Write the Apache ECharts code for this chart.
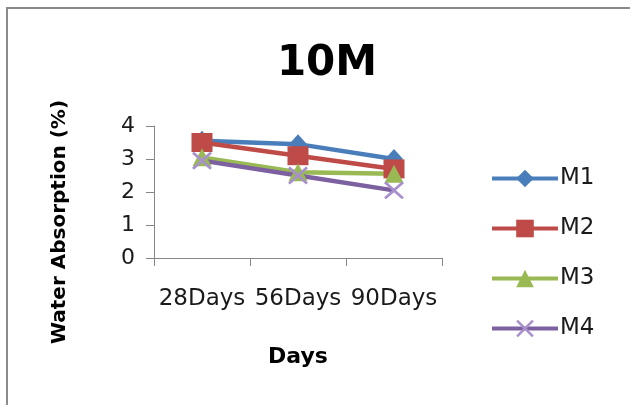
<!DOCTYPE html>
<html>
<head>
<meta charset="utf-8">
<script src="https://cdn.jsdelivr.net/npm/echarts@6/dist/echarts.min.js"></script>
<style>
  html, body { margin: 0; padding: 0; background: #ffffff; }
  #chart { width: 630px; height: 405px; }
</style>
</head>
<body>
<div id="chart"></div>
<script>
// Water absorption (%) of mixes M1–M4 at three curing ages
const categories = ['28Days', '56Days', '90Days'];
const seriesNames = ['M1', 'M2', 'M3', 'M4'];
const m1 = [3.55, 3.45, 3.0];
const m2 = [3.5, 3.1, 2.7];
const m3 = [3.05, 2.6, 2.55];
const m4 = [2.95, 2.5, 2.05];
const yTicks = [0, 1, 2, 3, 4];

const FONT = 'DejaVu Sans';
const colors = ['#4A7EBB', '#BE4B48', '#98B954', '#7D60A0'];
const crossPath = 'path://M0,1L1,0L5,4L9,0L10,1L6,5L10,9L9,10L5,6L1,10L0,9L4,5Z';

const chart = echarts.init(document.getElementById('chart'), null, { renderer: 'canvas' });

function lineSeries(name, data, color, symbol, size, symbolColor) {
  return {
    name: name,
    type: 'line',
    data: data,
    symbol: symbol,
    symbolSize: size,
    showAllSymbol: true,
    lineStyle: { color: color, width: 4.5 },
    itemStyle: { color: symbolColor || color, borderWidth: 0 },
    emphasis: { disabled: true },
    animation: false
  };
}

chart.setOption({
  animation: false,
  backgroundColor: '#ffffff',
  title: {
    text: '10M',
    left: 322,
    top: 38,
    textAlign: 'center',
    textStyle: { fontFamily: FONT, fontSize: 42, fontWeight: 'bold', color: '#000000' }
  },
  graphic: [
    {
      type: 'polyline',
      shape: { points: [[7, 420], [7, 8], [640, 8]] },
      style: { stroke: '#8A8A8A', lineWidth: 2, fill: null },
      silent: true
    },
    {
      type: 'text',
      x: 60,
      y: 222,
      rotation: Math.PI / 2,
      style: {
        text: 'Water Absorption (%)',
        fontFamily: FONT,
        fontSize: 20,
        fontWeight: 'bold',
        fill: '#000000',
        align: 'center',
        verticalAlign: 'middle'
      },
      silent: true
    }
  ],
  grid: { left: 154, right: 188, top: 126, bottom: 147, containLabel: false },
  legend: {
    orient: 'vertical',
    left: 485,
    top: 162,
    itemWidth: 66,
    itemHeight: 22,
    itemGap: 27,
    data: seriesNames,
    lineStyle: { width: 4 },
    textStyle: { fontFamily: FONT, fontSize: 23, color: '#1a1a1a', padding: [0, 0, 0, -3] },
    selectedMode: false
  },
  xAxis: {
    type: 'category',
    data: categories,
    boundaryGap: true,
    name: 'Days',
    nameLocation: 'middle',
    nameGap: 88,
    nameTextStyle: { fontFamily: FONT, fontSize: 22, fontWeight: 'bold', color: '#000000' },
    axisLine: { lineStyle: { color: '#868686', width: 1 } },
    axisTick: { show: true, alignWithLabel: false, length: 8, lineStyle: { color: '#868686' } },
    axisLabel: { fontFamily: FONT, fontSize: 23, color: '#1a1a1a', margin: 30, interval: 0 },
    splitLine: { show: false }
  },
  yAxis: {
    type: 'value',
    min: yTicks[0],
    max: yTicks[yTicks.length - 1],
    interval: 1,
    axisLine: { show: true, lineStyle: { color: '#868686', width: 1 } },
    axisTick: { show: true, length: 8, lineStyle: { color: '#868686' } },
    axisLabel: { fontFamily: FONT, fontSize: 22, color: '#1a1a1a', margin: 19 },
    splitLine: { show: false }
  },
  series: [
    lineSeries(seriesNames[0], m1, colors[0], 'diamond', [18, 20]),
    lineSeries(seriesNames[1], m2, colors[1], 'rect', [21, 19]),
    lineSeries(seriesNames[2], m3, colors[2], 'triangle', [19, 18]),
    lineSeries(seriesNames[3], m4, colors[3], crossPath, [20, 18], '#A890CC')
  ]
});
</script>
</body>
</html>
